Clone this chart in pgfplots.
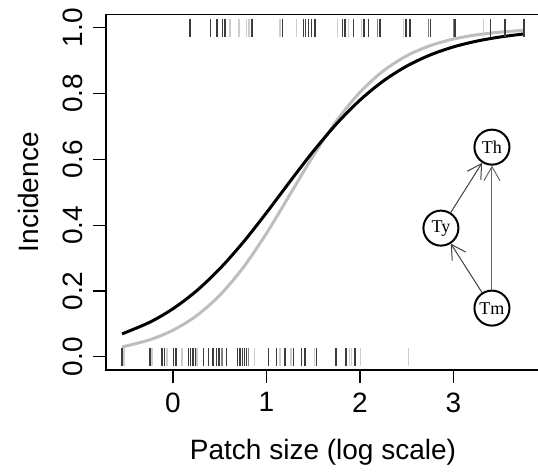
\documentclass[border=0pt]{standalone}
\usepackage{fontspec}
\setmainfont{Liberation Sans}
\newfontfamily\serifnet{Liberation Serif}
\usepackage{pgfplots}
\pgfplotsset{compat=1.18}
\usetikzlibrary{arrows.meta}
\definecolor{curvegray}{RGB}{190,190,190}
\definecolor{rugdark}{RGB}{60,60,60}
\definecolor{rugmid}{RGB}{130,130,130}
\definecolor{ruglight}{RGB}{205,205,205}
\begin{document}
\fontsize{14}{16.8}\selectfont
\begin{tikzpicture}
\begin{axis}[
  at={(0,0)}, anchor=south west,
  scale only axis, width=217pt, height=177.75pt,
  xmin=-0.717, xmax=3.926, ymin=-0.04, ymax=1.04,
  xtick={0,1,2,3}, xticklabels={0,1,2,3},
  ytick={0,0.2,0.4,0.6,0.8,1.0}, yticklabels={0.0,0.2,0.4,0.6,0.8,1.0},
  tick align=outside, xtick pos=bottom, ytick pos=left,
  major tick length=6.5pt,
  tick style={black, line width=0.6pt},
  axis line style={line width=0.6pt},
  yticklabel style={rotate=90, anchor=south},
  xticklabel style={anchor=north},
  xlabel={Patch size (log scale)}, ylabel={Incidence},
  every axis x label/.style={at={(axis description cs:0.5,-0.2307)}, anchor=center},
  every axis y label/.style={at={(axis description cs:-0.1797,0.5)}, rotate=90, anchor=center},
  clip=false,
]
% rug marks, y = 1 (presences)
\addplot[only marks, mark=|, mark size=4.5pt, color=ruglight, mark options={line width=0.6pt}] coordinates {
(0.610,1) (0.706,1) (0.786,1) (0.813,1) (1.144,1) (1.323,1) (1.757,1) (1.875,1) (2.018,1) (2.463,1) (3.319,1)};
\addplot[only marks, mark=|, mark size=4.5pt, color=rugmid, mark options={line width=0.6pt}] coordinates {
(2.185,1) (2.730,1) (2.998,1)};
\addplot[only marks, mark=|, mark size=4.5pt, color=rugdark, mark options={line width=0.6pt}] coordinates {
(0.182,1) (0.401,1) (0.471,1) (0.529,1) (0.556,1) (0.845,1) (1.173,1) (1.394,1) (1.417,1) (1.447,1) (1.483,1) (1.519,1) (1.815,1) (1.840,1) (1.928,1) (2.043,1) (2.089,1) (2.214,1) (2.492,1) (2.535,1) (2.756,1) (3.016,1) (3.398,1) (3.551,1) (3.754,1)};
% rug marks, y = 0 (absences)
\addplot[only marks, mark=|, mark size=4.5pt, color=ruglight, mark options={line width=0.6pt}] coordinates {
(-0.524,0) (-0.225,0) (-0.064,0) (0.096,0) (0.257,0) (0.870,0) (1.144,0) (1.262,0) (1.511,0) (1.885,0) (1.911,0) (2.007,0) (2.517,0)};
\addplot[only marks, mark=|, mark size=4.5pt, color=rugmid, mark options={line width=0.6pt}] coordinates {
(0.524,0) (0.805,0)};
\addplot[only marks, mark=|, mark size=4.5pt, color=rugdark, mark options={line width=0.6pt}] coordinates {
(-0.545,0) (-0.246,0) (-0.118,0) (-0.091,0) (0.005,0) (0.032,0) (0.166,0) (0.187,0) (0.214,0) (0.241,0) (0.328,0) (0.382,0) (0.428,0) (0.467,0) (0.492,0) (0.574,0) (0.692,0) (0.717,0) (0.741,0) (0.763,0) (0.788,0) (1.019,0) (1.109,0) (1.198,0) (1.291,0) (1.376,0) (1.412,0) (1.537,0) (1.743,0) (1.850,0) (1.947,0)};
% grey curve
\addplot[curvegray, line width=1.5pt, smooth, no marks] coordinates {
(-0.545,0.0300) (-0.25,0.0517) (0,0.0809) (0.25,0.1245) (0.5,0.1870) (0.75,0.2709) (1.0,0.3752) (1.25,0.4925) (1.5,0.6106) (1.75,0.7171) (2.0,0.8038) (2.25,0.8687) (2.5,0.9145) (2.75,0.9453) (3.0,0.9654) (3.25,0.9783) (3.5,0.9865) (3.754,0.9919)};
% black curve
\addplot[black, line width=1.5pt, smooth, no marks] coordinates {
(-0.545,0.0697) (-0.25,0.1049) (0,0.1462) (0.25,0.2000) (0.5,0.2675) (0.75,0.3477) (1.0,0.4378) (1.25,0.5322) (1.5,0.6242) (1.75,0.7081) (2.0,0.7799) (2.25,0.8381) (2.5,0.8832) (2.75,0.9169) (3.0,0.9416) (3.25,0.9592) (3.5,0.9717) (3.754,0.9810)};
% network diagram
\node[circle, draw, line width=1pt, minimum size=17.5pt, inner sep=0pt, fill=white, font=\serifnet\fontsize{9}{10}\selectfont] (Th) at (axis cs:3.412,0.637) {Th};
\node[circle, draw, line width=1pt, minimum size=17.5pt, inner sep=0pt, fill=white, font=\serifnet\fontsize{9}{10}\selectfont] (Ty) at (axis cs:2.866,0.391) {Ty};
\node[circle, draw, line width=1pt, minimum size=17.5pt, inner sep=0pt, fill=white, font=\serifnet\fontsize{9}{10}\selectfont] (Tm) at (axis cs:3.412,0.148) {Tm};
\draw[black!75, line width=0.5pt, -{Straight Barb[length=7pt,width=8pt]}] (Ty) -- (Th);
\draw[black!75, line width=0.5pt, -{Straight Barb[length=7pt,width=8pt]}] (Tm) -- (Ty);
\draw[black!60, line width=0.5pt, -{Straight Barb[length=7pt,width=8pt]}] (Tm) -- (Th);
\end{axis}
\pgfresetboundingbox
\path[use as bounding box] (-53pt,-53pt) rectangle (216pt,185pt);
\end{tikzpicture}
\end{document}
